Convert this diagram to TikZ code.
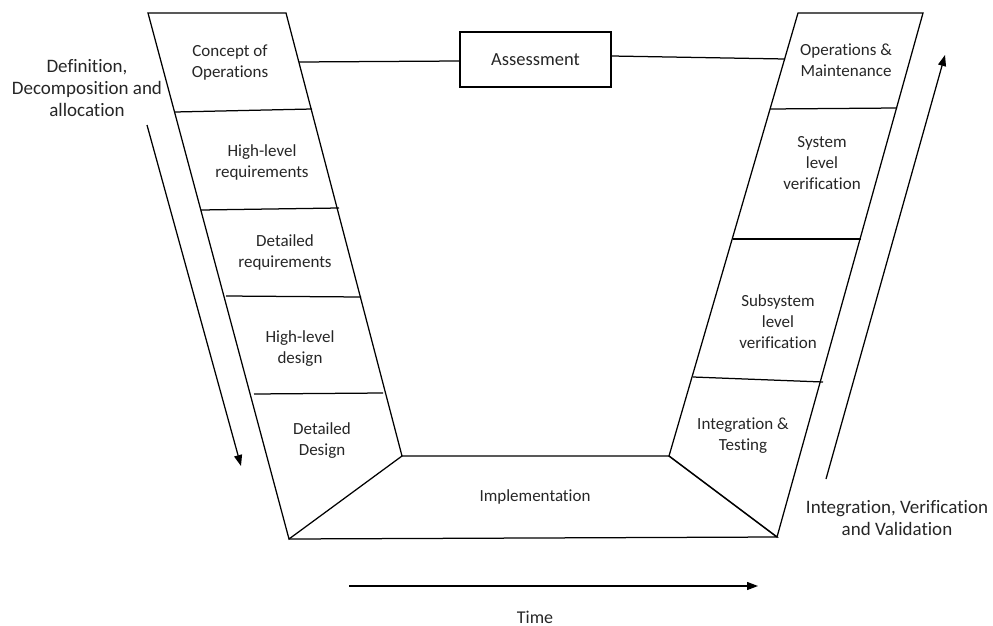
\documentclass[tikz,border=0pt]{standalone}
\usepackage{fontspec}
\setmainfont{Carlito}[Ligatures={NoCommon,NoRequired,NoContextual}]
\usetikzlibrary{arrows.meta}
\begin{document}
\begin{tikzpicture}[x=1pt,y=-1pt,
  edge/.style={line width=1.25pt, line join=miter},
  arrowline/.style={line width=1.25pt, -{Triangle[length=11pt,width=8pt]}},
  boxtext/.style={align=center, font=\fontsize{17}{21}\selectfont, inner sep=0pt, text=black!85},
  bigtext/.style={align=center, font=\fontsize{19}{22}\selectfont, inner sep=0pt, text=black!85},
  assessbox/.style={draw, line width=1.25pt, minimum width=151pt, minimum height=55pt, inner sep=0pt, align=center, font=\fontsize{18.5}{22}\selectfont, text=black!85}]
\useasboundingbox (0,0) rectangle (993,626);
% key corners
\coordinate (LTL) at (148,13);
\coordinate (LTR) at (286,13);
\coordinate (LIN) at (402,456);
\coordinate (LBO) at (289,539);
\coordinate (RTL) at (798,13);
\coordinate (RTR) at (923,13);
\coordinate (RIN) at (669,456);
\coordinate (RBO) at (777,537);
% left band
\draw[edge] (LTL) -- (LTR) -- (LIN) -- (LBO) -- cycle;
\draw[edge] (175,112) -- (312,109);
\draw[edge] (201,210) -- (339,208);
\draw[edge] (226,296) -- (361,297);
\draw[edge] (254,394) -- (383,393);
% bottom
\draw[edge] (LIN) -- (RIN) -- (RBO) -- (LBO);
% right band
\draw[edge] (RTL) -- (RTR) -- (RBO) -- (RIN) -- cycle;
\draw[edge] (770,109) -- (897,108);
\draw[edge] (733,239) -- (861,239);
\draw[edge] (693,377) -- (823,382);
% assessment
\node[assessbox] (assess) at (535.5,59.5) {Assessment};
\coordinate (cL) at (299,62);
\coordinate (cR) at (785,59);
\draw[edge] (cL) -- ([yshift=-1.5pt]assess.west);
\draw[edge] ([yshift=3.5pt]assess.east) -- (cR);
% labels in bands
\node[boxtext] (conops) at (230,63) {Concept of\\Operations};
\node[boxtext] (hlreq) at (262,162) {High-level\\requirements};
\node[boxtext] (dreq) at (285,252) {Detailed\\requirements};
\node[boxtext] (hldes) at (300,349) {High-level\\design};
\node[boxtext] (ddes) at (322,441) {Detailed\\Design};
\node[boxtext] (impl) at (535,497) {Implementation};
\node[boxtext] (om) at (846,60) {Operations \&\\Maintenance};
\node[boxtext] (sysv) at (822,163) {System\\level\\verification};
\node[boxtext] (subv) at (778,322) {Subsystem\\level\\verification};
\node[boxtext] (intt) at (743,436) {Integration \&\\Testing};
% side labels
\node[bigtext] (defn) at (87,88) {Definition,\\Decomposition and\\allocation};
\node[bigtext] (ivv) at (897,518) {Integration, Verification\\and Validation};
\node[font=\fontsize{18}{22}\selectfont, inner sep=0pt, text=black!85] (time) at (535,617) {Time};
% arrows
\coordinate (dA) at (147,125);
\coordinate (dB) at (241,466);
\draw[arrowline] (dA) -- (dB);
\coordinate (uA) at (826,479);
\coordinate (uB) at (945,55);
\draw[arrowline] (uA) -- (uB);
\coordinate (tA) at (349,586);
\coordinate (tB) at (758,586);
\draw[arrowline] (tA) -- (tB);
\end{tikzpicture}
\end{document}
